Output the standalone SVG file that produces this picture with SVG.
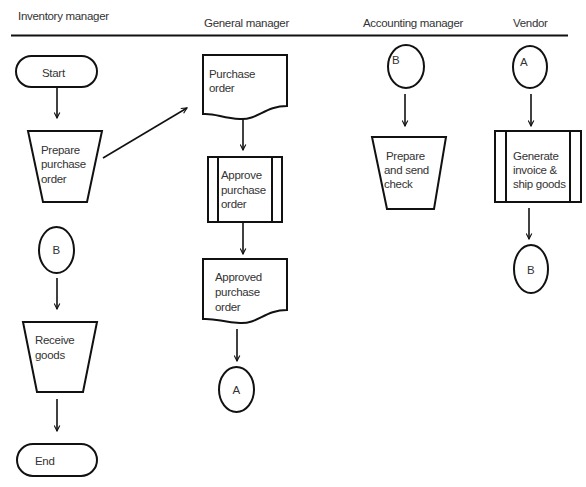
<svg xmlns="http://www.w3.org/2000/svg" width="586" height="487" viewBox="0 0 586 487">
<style>
.s{fill:#fff;stroke:#111;stroke-width:2}
.t{font-family:"Liberation Sans",Arial,sans-serif;font-size:11.5px;fill:#333;letter-spacing:-0.3px}
.h{font-family:"Liberation Sans",Arial,sans-serif;font-size:11.5px;fill:#333;letter-spacing:-0.3px}
.c{stroke:#111;stroke-width:1.6;fill:none;marker-end:url(#ah)}
</style>
<defs>
<marker id="ah" viewBox="0 0 10 10" refX="9" refY="5" markerWidth="7" markerHeight="7" orient="auto" markerUnits="userSpaceOnUse">
<path d="M1,1 L9,5 L1,9" fill="none" stroke="#111" stroke-width="1.6"/>
</marker>
</defs>
<rect width="586" height="487" fill="#fff"/>
<g id="headers">
<text class="h" x="18" y="20">Inventory manager</text>
<text class="h" x="204" y="27">General manager</text>
<text class="h" x="363" y="27">Accounting manager</text>
<text class="h" x="513" y="27">Vendor</text>
<line x1="11" y1="35.5" x2="568" y2="35.5" stroke="#111" stroke-width="1.8"/>
</g>
<g id="connectors">
<line class="c" x1="57" y1="87" x2="57" y2="118"/>
<line class="c" x1="103" y1="158" x2="187" y2="108"/>
<line class="c" x1="243" y1="118" x2="243" y2="150"/>
<line class="c" x1="243" y1="222" x2="243" y2="254"/>
<line class="c" x1="237" y1="329" x2="237" y2="361"/>
<line class="c" x1="57" y1="278" x2="57" y2="309"/>
<line class="c" x1="57" y1="399" x2="57" y2="431"/>
<line class="c" x1="405" y1="94" x2="405" y2="126"/>
<line class="c" x1="531" y1="94" x2="531" y2="126"/>
<line class="c" x1="529" y1="208" x2="529" y2="239"/>
</g>
<g id="start">
<rect class="s" x="16" y="56" width="81" height="31" rx="15.5"/>
<text class="t" x="42" y="77">Start</text>
</g>
<g id="prepare-po">
<path class="s" d="M28,131 L102,131 L87,202 L43,202 Z"/>
<text class="t" x="41" y="154">Prepare</text>
<text class="t" x="41" y="168">purchase</text>
<text class="t" x="41" y="183">order</text>
</g>
<g id="b-inv">
<ellipse class="s" cx="56.5" cy="250" rx="17.5" ry="23"/>
<text class="t" x="52.5" y="254">B</text>
</g>
<g id="receive">
<path class="s" d="M23,322 L97,322 L83,392 L37,392 Z"/>
<text class="t" x="35" y="344">Receive</text>
<text class="t" x="35" y="359">goods</text>
</g>
<g id="end">
<rect class="s" x="17" y="444" width="80" height="32" rx="16"/>
<text class="t" x="35" y="465">End</text>
</g>
<g id="purchase-order">
<path class="s" d="M203,55 L287,55 L287,106 C265,106 258,120 240,119 C222,118 215,113 203,114 Z"/>
<text class="t" x="209" y="78">Purchase</text>
<text class="t" x="209" y="92">order</text>
</g>
<g id="approve">
<rect class="s" x="208" y="157" width="74" height="65"/>
<line x1="218" y1="157" x2="218" y2="222" stroke="#111" stroke-width="2"/>
<line x1="272" y1="157" x2="272" y2="222" stroke="#111" stroke-width="2"/>
<text class="t" x="221" y="179">Approve</text>
<text class="t" x="221" y="194">purchase</text>
<text class="t" x="221" y="208">order</text>
</g>
<g id="approved-po">
<path class="s" d="M203,259 L287,259 L287,310 C265,310 258,324 240,323 C222,322 215,318 203,319 Z"/>
<text class="t" x="215" y="281">Approved</text>
<text class="t" x="215" y="296">purchase</text>
<text class="t" x="215" y="311">order</text>
</g>
<g id="a-gm">
<ellipse class="s" cx="236.5" cy="389.5" rx="17.5" ry="22.5"/>
<text class="t" x="232.5" y="394">A</text>
</g>
<g id="b-acct">
<ellipse class="s" cx="406" cy="66.5" rx="18" ry="21.5"/>
<text class="t" x="392" y="64">B</text>
</g>
<g id="prepare-check">
<path class="s" d="M372,137 L446,137 L434,209 L387,209 Z"/>
<text class="t" x="386" y="160">Prepare</text>
<text class="t" x="384" y="174">and send</text>
<text class="t" x="384" y="188">check</text>
</g>
<g id="a-vendor">
<ellipse class="s" cx="530" cy="67" rx="17" ry="21"/>
<text class="t" x="520" y="66">A</text>
</g>
<g id="generate">
<rect class="s" x="495" y="131" width="86" height="71"/>
<line x1="506" y1="131" x2="506" y2="202" stroke="#111" stroke-width="2"/>
<line x1="570" y1="131" x2="570" y2="202" stroke="#111" stroke-width="2"/>
<text class="t" x="513" y="160">Generate</text>
<text class="t" x="513" y="174">invoice &amp;</text>
<text class="t" x="513" y="188">ship goods</text>
</g>
<g id="b-vendor">
<ellipse class="s" cx="531" cy="269" rx="17" ry="24"/>
<text class="t" x="527" y="274">B</text>
</g>
</svg>
